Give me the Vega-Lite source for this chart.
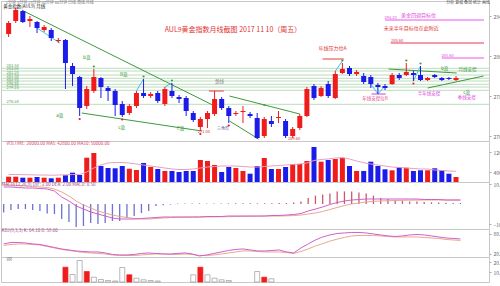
{
"$schema": "https://vega.github.io/schema/vega-lite/v6.json",
"background": "white",
"padding": 0,
"spacing": 0,
"bounds": "flush",
"config": {"view": {"stroke": "#c8c8c8", "strokeWidth": 1}, "font": "Noto Sans CJK SC",
  "axis": {"labelFontSize": 5, "labelColor": "#666", "tickSize": 2, "tickColor": "#aaa", "domain": false, "grid": false, "title": null, "labelPadding": 2}},
"datasets": {
"k": [
{"i":0,"o":290.4,"c":292.6,"h":293.0,"l":289.8,"d":"u","v":21200,"m":30000,"dif":8.5,"dea":9.5,"hs":-4.2,"kk":49.1,"dd":44.6,"b":0,"bk":"h"},
{"i":1,"o":293.0,"c":295.2,"h":295.6,"l":292.6,"d":"u","v":21200,"m":30000,"dif":8.5,"dea":9.5,"hs":-3,"kk":53.6,"dd":47.6,"b":0,"bk":"h"},
{"i":2,"o":295.0,"c":292.8,"h":295.2,"l":292.6,"d":"d","v":17200,"m":29200,"dif":8.25,"dea":9.25,"hs":-2.5,"kk":53.6,"dd":49.1,"b":0,"bk":"h"},
{"i":3,"o":293.0,"c":293.4,"h":294.0,"l":291.8,"d":"u","v":17200,"m":28800,"dif":8,"dea":9,"hs":-2.5,"kk":52.1,"dd":49.1,"b":0,"bk":"h"},
{"i":4,"o":292.8,"c":291.6,"h":293.0,"l":290.6,"d":"d","v":20000,"m":28000,"dif":8,"dea":8.75,"hs":-3,"kk":49.1,"dd":47.6,"b":0,"bk":"h"},
{"i":5,"o":291.2,"c":291.8,"h":292.2,"l":290.8,"d":"u","v":17200,"m":28000,"dif":7.75,"dea":8.5,"hs":-3.5,"kk":47.6,"dd":46.1,"b":0,"bk":"h"},
{"i":6,"o":291.2,"c":289.6,"h":291.6,"l":289.0,"d":"d","v":14800,"m":27200,"dif":7.5,"dea":8.25,"hs":-4.7,"kk":43.1,"dd":41.6,"b":0,"bk":"h"},
{"i":7,"o":289.0,"c":289.2,"h":289.6,"l":288.6,"d":"u","v":17200,"m":28000,"dif":6.5,"dea":7.5,"hs":-5,"kk":38.6,"dd":37.1,"b":0,"bk":"h"},
{"i":8,"o":289.2,"c":284.6,"h":289.4,"l":279.4,"d":"d","v":26800,"m":28800,"dif":3.5,"dea":6,"hs":-7.5,"kk":34.1,"dd":32.6,"b":14.8,"bk":"r"},
{"i":9,"o":284.0,"c":282.4,"h":284.6,"l":280.0,"d":"d","v":37200,"m":30000,"dif":1.5,"dea":4,"hs":-9,"kk":31.1,"dd":29.6,"b":7.5,"bk":"h"},
{"i":10,"o":281.8,"c":275.6,"h":282.0,"l":274.0,"d":"d","v":28000,"m":30000,"dif":-1,"dea":1.5,"hs":-11.5,"kk":28.1,"dd":26.6,"b":21.5,"bk":"h"},
{"i":11,"o":276.0,"c":279.4,"h":280.0,"l":275.4,"d":"u","v":97200,"m":40000,"dif":-2.5,"dea":-0.5,"hs":-11,"kk":26.6,"dd":23.6,"b":10.5,"bk":"r"},
{"i":12,"o":279.0,"c":281.8,"h":283.4,"l":278.6,"d":"u","v":116000,"m":56000,"dif":-4,"dea":-2,"hs":-9.5,"kk":25.1,"dd":22.1,"b":4.8,"bk":"h"},
{"i":13,"o":281.6,"c":279.8,"h":281.8,"l":277.6,"d":"d","v":64000,"m":68000,"dif":-5,"dea":-3.5,"hs":-10,"kk":25.1,"dd":20.6,"b":2.5,"bk":"h"},
{"i":14,"o":279.6,"c":279.0,"h":280.0,"l":277.0,"d":"d","v":56000,"m":76000,"dif":-6,"dea":-4.5,"hs":-9.5,"kk":22.1,"dd":19.1,"b":1.5,"bk":"h"},
{"i":15,"o":279.0,"c":276.2,"h":279.4,"l":274.0,"d":"d","v":54800,"m":78000,"dif":-7,"dea":-5.5,"hs":-8.5,"kk":17.6,"dd":16.1,"b":1,"bk":"h"},
{"i":16,"o":276.4,"c":274.2,"h":277.0,"l":273.8,"d":"d","v":64000,"m":78000,"dif":-7.5,"dea":-6.25,"hs":-8.5,"kk":16.1,"dd":14.6,"b":14.5,"bk":"h"},
{"i":17,"o":274.6,"c":276.0,"h":276.4,"l":274.2,"d":"u","v":53200,"m":76000,"dif":-7.5,"dea":-6.75,"hs":-7,"kk":16.1,"dd":14.6,"b":7.2,"bk":"r"},
{"i":18,"o":276.0,"c":278.6,"h":279.0,"l":275.6,"d":"u","v":48000,"m":72000,"dif":-7.5,"dea":-7.25,"hs":-6,"kk":17.6,"dd":14.6,"b":3.8,"bk":"h"},
{"i":19,"o":278.6,"c":278.0,"h":281.4,"l":277.6,"d":"d","v":76000,"m":68000,"dif":-7.25,"dea":-7.5,"hs":-4.5,"kk":20.6,"dd":16.1,"b":2.2,"bk":"h"},
{"i":20,"o":278.0,"c":278.4,"h":278.8,"l":277.6,"d":"u","v":60000,"m":64000,"dif":-7,"dea":-7.5,"hs":-3.5,"kk":22.1,"dd":17.6,"b":1.5,"bk":"h"},
{"i":21,"o":278.6,"c":277.0,"h":279.0,"l":276.6,"d":"d","v":52000,"m":60000,"dif":-6.75,"dea":-7.25,"hs":-1,"kk":20.6,"dd":19.1,"b":1,"bk":"h"},
{"i":22,"o":276.4,"c":279.4,"h":279.8,"l":276.0,"d":"u","v":44000,"m":56000,"dif":-6.5,"dea":-7,"hs":-0.6,"kk":19.1,"dd":19.1,"b":0,"bk":"h"},
{"i":23,"o":279.0,"c":278.0,"h":280.6,"l":277.6,"d":"d","v":44000,"m":52000,"dif":-6.5,"dea":-6.75,"hs":-0.3,"kk":19.1,"dd":17.6,"b":0,"bk":"h"},
{"i":24,"o":277.8,"c":277.4,"h":278.2,"l":276.6,"d":"d","v":40000,"m":50000,"dif":-6.5,"dea":-6.65,"hs":0.2,"kk":20.6,"dd":17.6,"b":0,"bk":"h"},
{"i":25,"o":277.6,"c":275.0,"h":278.0,"l":274.0,"d":"d","v":44000,"m":50000,"dif":-6.5,"dea":-6.6,"hs":0.2,"kk":22.1,"dd":19.1,"b":0,"bk":"h"},
{"i":26,"o":274.6,"c":273.2,"h":275.0,"l":272.8,"d":"d","v":44000,"m":52000,"dif":-6.5,"dea":-6.55,"hs":0.2,"kk":19.1,"dd":17.6,"b":7.2,"bk":"h"},
{"i":27,"o":271.8,"c":273.4,"h":273.8,"l":271.0,"d":"u","v":88000,"m":56000,"dif":-6.5,"dea":-6.5,"hs":0.3,"kk":13.1,"dd":14.6,"b":14.8,"bk":"r"},
{"i":28,"o":273.4,"c":274.6,"h":275.0,"l":271.6,"d":"u","v":84000,"m":60000,"dif":-6.25,"dea":-6.5,"hs":0.3,"kk":16.1,"dd":14.6,"b":7.2,"bk":"h"},
{"i":29,"o":274.4,"c":277.4,"h":279.0,"l":274.0,"d":"u","v":68000,"m":62000,"dif":-6.25,"dea":-6.45,"hs":0.3,"kk":20.6,"dd":16.1,"b":3.8,"bk":"h"},
{"i":30,"o":277.4,"c":275.6,"h":277.8,"l":275.2,"d":"d","v":40000,"m":64000,"dif":-6.25,"dea":-6.4,"hs":0.3,"kk":25.1,"dd":19.1,"b":2.2,"bk":"h"},
{"i":31,"o":275.6,"c":274.0,"h":276.0,"l":272.6,"d":"d","v":60000,"m":64000,"dif":-6,"dea":-6.35,"hs":0.3,"kk":29.6,"dd":22.1,"b":1.5,"bk":"h"},
{"i":32,"o":274.4,"c":274.6,"h":275.0,"l":274.0,"d":"u","v":56000,"m":64000,"dif":-6,"dea":-6.25,"hs":0.4,"kk":32.6,"dd":25.1,"b":0,"bk":"h"},
{"i":33,"o":274.8,"c":275.0,"h":276.0,"l":272.6,"d":"u","v":44000,"m":62000,"dif":-6,"dea":-6.2,"hs":0.4,"kk":34.1,"dd":28.1,"b":0,"bk":"h"},
{"i":34,"o":274.4,"c":274.0,"h":274.8,"l":273.6,"d":"d","v":33200,"m":60000,"dif":-6,"dea":-6.15,"hs":0.4,"kk":31.1,"dd":28.1,"b":0,"bk":"h"},
{"i":35,"o":273.6,"c":269.6,"h":274.6,"l":269.4,"d":"d","v":64000,"m":60000,"dif":-6,"dea":-6.1,"hs":0.3,"kk":28.1,"dd":26.6,"b":10.5,"bk":"h"},
{"i":36,"o":270.0,"c":273.4,"h":273.8,"l":269.6,"d":"u","v":96000,"m":62000,"dif":-6,"dea":-6.05,"hs":0.4,"kk":28.1,"dd":25.1,"b":4.8,"bk":"r"},
{"i":37,"o":273.0,"c":272.4,"h":274.0,"l":271.8,"d":"d","v":52000,"m":64000,"dif":-5.75,"dea":-6,"hs":0.4,"kk":29.6,"dd":25.1,"b":3.2,"bk":"h"},
{"i":38,"o":273.6,"c":273.8,"h":275.0,"l":272.6,"d":"u","v":52000,"m":66000,"dif":-5.75,"dea":-6,"hs":0.5,"kk":31.1,"dd":25.1,"b":0,"bk":"h"},
{"i":39,"o":273.0,"c":270.0,"h":273.4,"l":269.6,"d":"d","v":60000,"m":68000,"dif":-5.5,"dea":-5.9,"hs":0.5,"kk":25.1,"dd":23.6,"b":0,"bk":"h"},
{"i":40,"o":270.0,"c":271.4,"h":271.8,"l":269.6,"d":"u","v":72000,"m":70000,"dif":-5.25,"dea":-5.8,"hs":0.8,"kk":22.1,"dd":20.6,"b":0,"bk":"h"},
{"i":41,"o":271.6,"c":274.0,"h":274.4,"l":271.2,"d":"u","v":72000,"m":72000,"dif":-4.75,"dea":-5.5,"hs":1.2,"kk":37.1,"dd":26.6,"b":0,"bk":"h"},
{"i":42,"o":274.0,"c":279.4,"h":279.8,"l":273.8,"d":"u","v":84000,"m":76000,"dif":-3.5,"dea":-5,"hs":3,"kk":49.1,"dd":34.1,"b":0,"bk":"h"},
{"i":43,"o":280.0,"c":277.6,"h":280.4,"l":277.2,"d":"d","v":140000,"m":86000,"dif":-2.5,"dea":-4.5,"hs":4.2,"kk":61.1,"dd":43.1,"b":0,"bk":"h"},
{"i":44,"o":278.0,"c":279.6,"h":280.0,"l":277.8,"d":"u","v":81200,"m":90000,"dif":-1.5,"dea":-3.75,"hs":4.7,"kk":70.1,"dd":50.1,"b":0,"bk":"h"},
{"i":45,"o":280.4,"c":278.0,"h":281.0,"l":277.6,"d":"d","v":88000,"m":92000,"dif":-0.25,"dea":-2.75,"hs":5.3,"kk":76.1,"dd":57.6,"b":0,"bk":"h"},
{"i":46,"o":277.6,"c":282.4,"h":283.0,"l":277.4,"d":"u","v":92000,"m":96000,"dif":0.75,"dea":-1.75,"hs":6.2,"kk":80.6,"dd":63.6,"b":0,"bk":"h"},
{"i":47,"o":282.6,"c":283.4,"h":284.6,"l":282.4,"d":"u","v":97200,"m":97200,"dif":1.5,"dea":-0.75,"hs":6.3,"kk":82.1,"dd":68.6,"b":0,"bk":"h"},
{"i":48,"o":283.6,"c":282.4,"h":284.0,"l":282.0,"d":"d","v":64000,"m":92000,"dif":2,"dea":0,"hs":6.3,"kk":83.6,"dd":73.1,"b":0,"bk":"h"},
{"i":49,"o":282.4,"c":282.8,"h":283.2,"l":282.0,"d":"u","v":44000,"m":84000,"dif":2.25,"dea":0.5,"hs":5.8,"kk":83.6,"dd":74.6,"b":0,"bk":"h"},
{"i":50,"o":282.0,"c":280.8,"h":282.6,"l":280.4,"d":"d","v":44000,"m":77200,"dif":2.5,"dea":1,"hs":5.3,"kk":82.1,"dd":74.6,"b":0,"bk":"h"},
{"i":51,"o":281.8,"c":280.4,"h":282.2,"l":279.6,"d":"d","v":81200,"m":72000,"dif":2.5,"dea":1.35,"hs":4.2,"kk":79.1,"dd":74.6,"b":0,"bk":"h"},
{"i":52,"o":280.2,"c":279.8,"h":280.6,"l":278.4,"d":"d","v":64000,"m":68000,"dif":2.5,"dea":1.5,"hs":3,"kk":76.1,"dd":73.1,"b":0,"bk":"h"},
{"i":53,"o":280.0,"c":279.6,"h":280.4,"l":279.2,"d":"d","v":50800,"m":64000,"dif":2.5,"dea":1.65,"hs":2.5,"kk":73.1,"dd":71.6,"b":0,"bk":"h"},
{"i":54,"o":280.4,"c":282.2,"h":282.6,"l":280.2,"d":"u","v":46800,"m":60000,"dif":2.5,"dea":1.75,"hs":2,"kk":71.6,"dd":70.1,"b":0,"bk":"h"},
{"i":55,"o":282.2,"c":281.6,"h":282.6,"l":281.2,"d":"d","v":60000,"m":58000,"dif":2.5,"dea":1.85,"hs":1.7,"kk":73.1,"dd":70.1,"b":0,"bk":"h"},
{"i":56,"o":282.2,"c":282.8,"h":284.6,"l":282.0,"d":"u","v":57200,"m":56000,"dif":2.5,"dea":1.9,"hs":1.3,"kk":76.1,"dd":70.1,"b":0,"bk":"h"},
{"i":57,"o":282.6,"c":282.2,"h":283.0,"l":281.0,"d":"d","v":44000,"m":54000,"dif":2.5,"dea":1.95,"hs":1.2,"kk":77.6,"dd":70.1,"b":0,"bk":"h"},
{"i":58,"o":282.2,"c":281.2,"h":284.0,"l":281.0,"d":"d","v":46800,"m":52000,"dif":2.25,"dea":2,"hs":1,"kk":76.1,"dd":68.6,"b":0,"bk":"h"},
{"i":59,"o":281.2,"c":281.6,"h":281.8,"l":281.0,"d":"u","v":46800,"m":52000,"dif":2.25,"dea":2,"hs":0.8,"kk":73.1,"dd":67.1,"b":0,"bk":"h"},
{"i":60,"o":282.2,"c":281.8,"h":282.4,"l":281.6,"d":"d","v":54800,"m":48000,"dif":2.25,"dea":2,"hs":0.7,"kk":70.1,"dd":65.6,"b":0,"bk":"h"},
{"i":61,"o":281.6,"c":281.2,"h":281.8,"l":281.0,"d":"d","v":48000,"m":46000,"dif":2,"dea":2,"hs":0.6,"kk":67.1,"dd":62.6,"b":0,"bk":"h"},
{"i":62,"o":281.6,"c":281.4,"h":281.8,"l":281.2,"d":"d","v":33200,"m":44000,"dif":2,"dea":2,"hs":0.5,"kk":65.6,"dd":61.1,"b":0,"bk":"h"},
{"i":63,"o":281.2,"c":281.6,"h":282.0,"l":281.0,"d":"u","v":20000,"m":42800,"dif":2,"dea":2,"hs":0.5,"kk":64.1,"dd":59.6,"b":0,"bk":"h"}
],
"hl": [
{"p":283.54,"t":"283.54"},{"p":283.0,"t":"283.00"},{"p":282.2,"t":"282.20"},{"p":281.54,"t":"281.54"},
{"p":281.0,"t":"281.00"},{"p":280.34,"t":"280.34"},{"p":279.8,"t":"279.80"},{"p":279.14,"t":"279.14"},{"p":276.34,"t":"276.34"}
],
"tl": [
{"g":"A","x":2.1,"y":295.0},{"g":"A","x":29.3,"y":275.8},
{"g":"B","x":10.3,"y":274.6},{"g":"B","x":27.2,"y":271.0},
{"g":"C","x":31.1,"y":278.0},{"g":"C","x":41.0,"y":274.4},
{"g":"D","x":31.1,"y":273.0},{"g":"D","x":35.2,"y":269.4},
{"g":"E","x":53.5,"y":283.4},{"g":"E","x":63.1,"y":282.6},
{"g":"F","x":59.0,"y":279.6},{"g":"F","x":66.9,"y":282.0}
],
"cy": [
{"g":"a","x":4.0,"y":291.6},{"g":"a","x":7.2,"y":288.6},
{"g":"b","x":18,"y":279.0},{"g":"b","x":19,"y":281.4},
{"g":"c","x":22,"y":279.8},{"g":"c","x":23,"y":280.6},
{"g":"d","x":46,"y":283.0},{"g":"d","x":47,"y":285.0},
{"g":"e","x":51,"y":280.4},{"g":"e","x":52,"y":278.4},{"g":"e","x":53,"y":280.0},
{"g":"f","x":57,"y":281.0},{"g":"f","x":58,"y":284.0}
],
"rl": [
{"x":53.0,"x2":66.94,"y":293.2,"col":"#ee55ee","w":1.2},
{"x":53.8,"x2":66.94,"y":288.6,"col":"#ee3355","w":1.2},
{"x":61.0,"x2":66.94,"y":285.6,"col":"#ee55ee","w":1.2},
{"x":44.2,"x2":47.2,"y":285.4,"col":"#e83a3a","w":1},
{"x":28.2,"x2":30.3,"y":279.0,"col":"#e83a3a","w":1},
{"x":51.1,"x2":53.1,"y":278.4,"col":"#cc44cc","w":1}
],
"pv": [
{"x":12,"y":283.9,"col":"#3aa03a"},{"x":19,"y":281.9,"col":"#3aa03a"},{"x":23,"y":281.1,"col":"#3aa03a"},
{"x":47,"y":285.1,"col":"#3aa03a"},{"x":56,"y":285.1,"col":"#3aa03a"},{"x":58,"y":284.5,"col":"#3aa03a"},{"x":36,"y":276.2,"col":"#3aa03a"},
{"x":10,"y":273.4,"col":"#e02020"},{"x":16,"y":273.3,"col":"#e02020"},{"x":27,"y":270.4,"col":"#e02020"},
{"x":31,"y":272.1,"col":"#e02020"},{"x":57,"y":280.5,"col":"#e02020"}
],
"ann": [
{"x":31.6,"y":291.2,"t":"AUL9黄金指数月线截图  2017 11 10（周五）","col":"#e03535","fs":7},
{"x":5.8,"y":296.7,"t":"1分钟 5分钟 15分钟 30分钟 60分钟 日线 周线 月线","col":"#777777","fs":4},
{"x":2.2,"y":295.9,"t":"黄金指数(AUL9) 月线","col":"#222222","fs":4.5},
{"x":64.7,"y":296.7,"t":"分析 复权 叠加 统计 画线","col":"#555555","fs":4},
{"x":45.6,"y":287.6,"t":"年线压力位A","col":"#e03535","fs":5},
{"x":56.7,"y":291.6,"t":"未来半年目标位在此附近","col":"#e03535","fs":5},
{"x":57.7,"y":294.2,"t":"黄金回调目标位","col":"#dd44dd","fs":5},
{"x":53.8,"y":293.65,"t":"293.20","col":"#dd44dd","fs":4},
{"x":54.7,"y":289.05,"t":"288.60","col":"#e03355","fs":4},
{"x":61.8,"y":286.05,"t":"285.60","col":"#dd44dd","fs":4},
{"x":51.6,"y":277.4,"t":"年线支撑位B","col":"#e0508a","fs":4.5},
{"x":59.2,"y":278.4,"t":"半年线支撑","col":"#dd44dd","fs":4.5},
{"x":64.5,"y":278.6,"t":"c浪","col":"#3a9a3a","fs":4.5},
{"x":64.5,"y":277.6,"t":"季线支撑","col":"#dd44dd","fs":4.5},
{"x":61.4,"y":283.4,"t":"b浪","col":"#3a9a3a","fs":4.5},
{"x":64.6,"y":283.2,"t":"月线支撑","col":"#3a9a3a","fs":4.5},
{"x":29.7,"y":280.8,"t":"颈线","col":"#888888","fs":4.5},
{"x":27.5,"y":270.8,"t":"271.00","col":"#e03535","fs":4},
{"x":30.2,"y":271.4,"t":"三角形","col":"#6060a0","fs":4},
{"x":40.2,"y":269.4,"t":"269.60","col":"#e03535","fs":4},
{"x":7.2,"y":274.0,"t":"a浪","col":"#3a9a3a","fs":4.5},
{"x":11.0,"y":285.6,"t":"b浪","col":"#3a9a3a","fs":4.5},
{"x":15.9,"y":271.6,"t":"c浪","col":"#3a9a3a","fs":4.5},
{"x":16.2,"y":282.2,"t":"B浪","col":"#3a9a3a","fs":4.5},
{"x":24.2,"y":271.4,"t":"C浪","col":"#3a9a3a","fs":4.5}
]
},
"vconcat": [
{
"width": 488, "height": 140,
"layer": [
{"data": {"name": "hl"}, "mark": {"type": "rule", "color": "#bcdcbc", "strokeWidth": 1}, "encoding": {"y": {"field": "p", "type": "quantitative", "scale": {"domain": [269.0, 297.0], "nice": false, "zero": false}, "axis": {"orient": "right", "values": [270,272,274,276,278,280,282,284,286,288,290,292,294], "format": ".2f"}}}},
{"data": {"name": "hl"}, "mark": {"type": "text", "fontSize": 4, "color": "#55a055", "align": "left", "baseline": "bottom", "dy": -0.3}, "encoding": {"x": {"datum": -0.3, "type": "quantitative"}, "y": {"field": "p", "type": "quantitative"}, "text": {"field": "t"}}},
{"data": {"name": "rl"}, "mark": {"type": "rule"}, "encoding": {"x": {"field": "x", "type": "quantitative", "scale": {"domain": [-0.37, 66.94], "nice": false, "zero": false}, "axis": null}, "x2": {"field": "x2"}, "y": {"field": "y", "type": "quantitative"}, "color": {"field": "col", "type": "nominal", "scale": null}, "strokeWidth": {"field": "w", "type": "quantitative", "scale": null}}},
{"data": {"name": "tl"}, "mark": {"type": "line", "color": "#3c9a3c", "strokeWidth": 1}, "encoding": {"x": {"field": "x", "type": "quantitative"}, "y": {"field": "y", "type": "quantitative"}, "detail": {"field": "g"}}},
{"data": {"name": "cy"}, "mark": {"type": "line", "color": "#45c0e8", "strokeWidth": 1}, "encoding": {"x": {"field": "x", "type": "quantitative"}, "y": {"field": "y", "type": "quantitative"}, "detail": {"field": "g"}}},
{"data": {"name": "k"}, "mark": {"type": "rule", "strokeWidth": 1}, "encoding": {"x": {"field": "i", "type": "quantitative"}, "y": {"field": "l", "type": "quantitative"}, "y2": {"field": "h"}, "color": {"field": "d", "type": "nominal", "scale": {"domain": ["u","d"], "range": ["#f01c1c","#1c1ce8"]}, "legend": null}}},
{"data": {"name": "k"}, "mark": {"type": "bar", "size": 5}, "encoding": {"x": {"field": "i", "type": "quantitative"}, "y": {"field": "o", "type": "quantitative"}, "y2": {"field": "c"}, "color": {"field": "d", "type": "nominal", "scale": {"domain": ["u","d"], "range": ["#f01c1c","#1c1ce8"]}, "legend": null}}},
{"data": {"name": "pv"}, "mark": {"type": "point", "filled": true, "size": 5, "opacity": 1}, "encoding": {"x": {"field": "x", "type": "quantitative"}, "y": {"field": "y", "type": "quantitative"}, "color": {"field": "col", "type": "nominal", "scale": null}}},
{"data": {"name": "ann"}, "mark": {"type": "text", "baseline": "middle"}, "encoding": {"x": {"field": "x", "type": "quantitative"}, "y": {"field": "y", "type": "quantitative"}, "text": {"field": "t"}, "color": {"field": "col", "type": "nominal", "scale": null}, "size": {"field": "fs", "type": "quantitative", "scale": null}}}
]
},
{
"width": 488, "height": 41,
"data": {"name": "k"},
"layer": [
{"mark": {"type": "bar", "size": 5}, "encoding": {"x": {"field": "i", "type": "quantitative", "scale": {"domain": [-0.37, 66.94], "nice": false, "zero": false}, "axis": null}, "y": {"field": "v", "type": "quantitative", "scale": {"domain": [0, 164000], "nice": false}, "axis": {"orient": "right", "values": [40000, 80000, 120000], "format": ".2f"}}, "color": {"field": "d", "type": "nominal", "scale": {"domain": ["u","d"], "range": ["#f01c1c","#1c1ce8"]}, "legend": null}}},
{"mark": {"type": "line", "color": "#e8a0c0", "strokeWidth": 1}, "encoding": {"x": {"field": "i", "type": "quantitative"}, "y": {"field": "m", "type": "quantitative"}}},
{"data": {"values": [{"t": "VOLUME: 20000.00  MA5: 42800.00  MA10: 50000.00"}]}, "mark": {"type": "text", "fontSize": 4.5, "color": "#d04060", "align": "left", "baseline": "middle"}, "encoding": {"x": {"datum": -0.3, "type": "quantitative"}, "y": {"datum": 154000, "type": "quantitative"}, "text": {"field": "t"}}}
]
},
{
"width": 488, "height": 47,
"data": {"name": "k"},
"layer": [
{"mark": {"type": "rule", "strokeWidth": 1.3}, "encoding": {"x": {"field": "i", "type": "quantitative", "scale": {"domain": [-0.37, 66.94], "nice": false, "zero": false}, "axis": null}, "y": {"field": "hs", "type": "quantitative", "scale": {"domain": [-12.5, 11], "nice": false}, "axis": {"orient": "right", "values": [-10, -5, 0, 5, 10], "format": ".2f"}}, "y2": {"datum": 0}, "color": {"condition": {"test": "datum.hs < 0", "value": "#7070d0"}, "value": "#c85a70"}}},
{"mark": {"type": "line", "color": "#e8a890", "strokeWidth": 1}, "encoding": {"x": {"field": "i", "type": "quantitative"}, "y": {"field": "dea", "type": "quantitative"}}},
{"mark": {"type": "line", "color": "#d060c8", "strokeWidth": 1}, "encoding": {"x": {"field": "i", "type": "quantitative"}, "y": {"field": "dif", "type": "quantitative"}}},
{"data": {"values": [{"t": "MACD(12,26,9)  DIF: 2.00  DEA: 2.00  MACD: 0.50"}]}, "mark": {"type": "text", "fontSize": 4.5, "color": "#a04080", "align": "left", "baseline": "middle"}, "encoding": {"x": {"datum": -0.3, "type": "quantitative"}, "y": {"datum": 9.75, "type": "quantitative"}, "text": {"field": "t"}}}
]
},
{
"width": 488, "height": 28,
"data": {"name": "k"},
"layer": [
{"mark": {"type": "line", "color": "#e8a890", "strokeWidth": 1}, "encoding": {"x": {"field": "i", "type": "quantitative", "scale": {"domain": [-0.37, 66.94], "nice": false, "zero": false}, "axis": null}, "y": {"field": "dd", "type": "quantitative", "scale": {"domain": [10, 94], "nice": false}, "axis": {"orient": "right", "values": [20, 50, 80], "format": ".2f"}}}},
{"mark": {"type": "line", "color": "#d060c8", "strokeWidth": 1}, "encoding": {"x": {"field": "i", "type": "quantitative"}, "y": {"field": "kk", "type": "quantitative"}}},
{"data": {"values": [{"t": "KDJ(9,3,3)  K: 64.10  D: 59.60"}]}, "mark": {"type": "text", "fontSize": 4.5, "color": "#a04080", "align": "left", "baseline": "middle"}, "encoding": {"x": {"datum": -0.3, "type": "quantitative"}, "y": {"datum": 88, "type": "quantitative"}, "text": {"field": "t"}}}
]
},
{
"width": 488, "height": 25,
"data": {"name": "k"},
"layer": [
{"transform": [{"filter": "datum.b > 0"}],
"mark": {"type": "bar", "size": 5, "strokeWidth": 0.7},
"encoding": {
"x": {"field": "i", "type": "quantitative", "scale": {"domain": [-0.37, 66.94], "nice": false, "zero": false}, "axis": null},
"y": {"field": "b", "type": "quantitative", "scale": {"domain": [0, 25], "nice": false}, "axis": {"orient": "right", "values": [10, 20], "format": ".2f"}},
"fill": {"field": "bk", "type": "nominal", "scale": {"domain": ["r","h"], "range": ["#f01c1c","#ffffff"]}, "legend": null},
"stroke": {"field": "bk", "type": "nominal", "scale": {"domain": ["r","h"], "range": ["#f01c1c","#999999"]}, "legend": null}
}},
{"data": {"values": [{"t": "VR"}]}, "mark": {"type": "text", "fontSize": 4.5, "color": "#666666", "align": "left", "baseline": "middle"}, "encoding": {"x": {"datum": -0.3, "type": "quantitative"}, "y": {"datum": 22.5, "type": "quantitative"}, "text": {"field": "t"}}}
]
}
]
}
